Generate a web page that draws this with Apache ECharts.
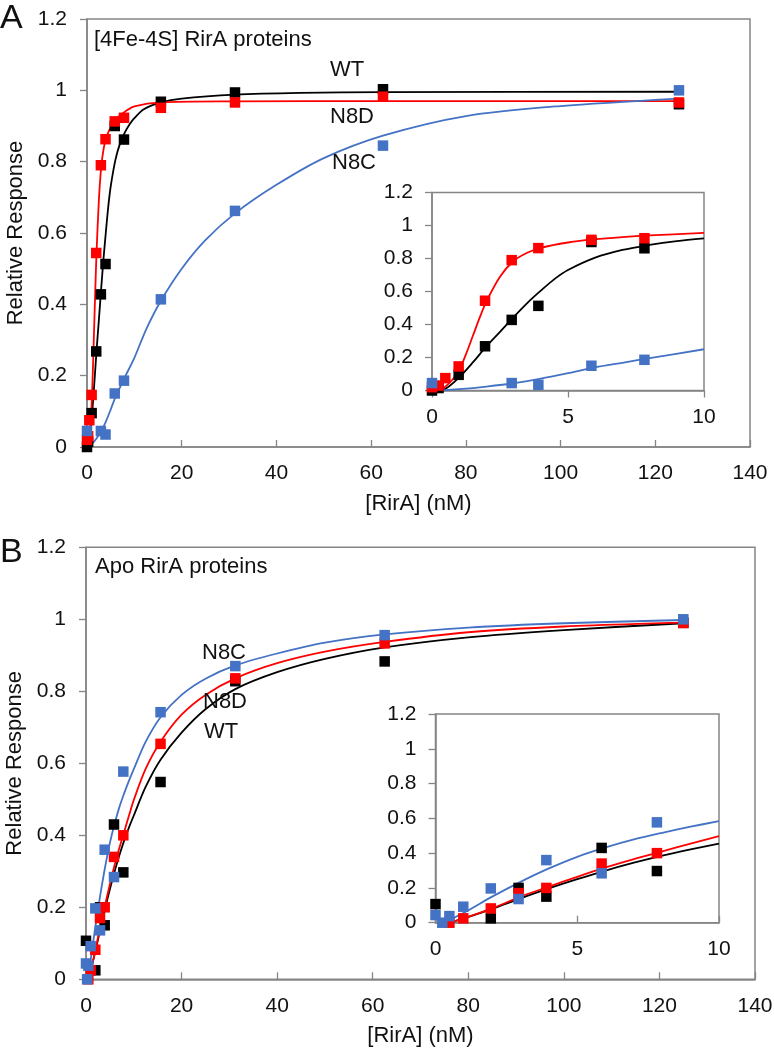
<!DOCTYPE html>
<html><head><meta charset="utf-8">
<script src="https://cdn.jsdelivr.net/npm/echarts@6/dist/echarts.min.js"></script>
<style>html,body{margin:0;padding:0;background:#fff}#c{width:774px;height:1049px}</style>
</head><body><div id="c"></div>
<script>
// ---------- Panel A : [4Fe-4S] RirA proteins ----------
const aWTPoints   = [[0,0.0],[0.24,0.015],[0.98,0.095],[1.95,0.268],[2.93,0.428],[3.91,0.513],[5.86,0.9],[7.81,0.862],[15.6,0.968],[31.25,0.994],[62.5,1.003],[125,0.961]];
const aN8DPoints  = [[0,0.02],[0.24,0.03],[0.49,0.075],[0.98,0.146],[1.95,0.544],[2.93,0.79],[3.91,0.863],[5.86,0.913],[7.81,0.923],[15.6,0.951],[31.25,0.966],[62.5,0.982],[125,0.966]];
const aN8CPoints  = [[0,0.045],[2.93,0.045],[3.91,0.035],[5.86,0.15],[7.81,0.186],[15.6,0.414],[31.25,0.662],[62.5,0.845],[125,1.0]];
const aWTCurve    = [[0.3,0],[0.5,0.01],[1,0.08],[1.5,0.17],[2,0.267],[2.5,0.355],[3,0.445],[3.5,0.53],[4,0.605],[4.5,0.675],[5,0.73],[6,0.805],[7,0.852],[8,0.882],[9,0.905],[10,0.922],[12,0.947],[15.6,0.966],[20,0.977],[31.25,0.988],[45,0.993],[62.5,0.995],[125,0.996]];
const aN8DCurve   = [[0.3,0],[0.5,0.025],[0.75,0.065],[1,0.125],[1.25,0.22],[1.5,0.33],[1.75,0.44],[2,0.54],[2.5,0.69],[3,0.785],[3.5,0.835],[4,0.865],[5,0.897],[6,0.917],[7,0.93],[8,0.94],[10,0.955],[15.6,0.966],[31.25,0.969],[62.5,0.97],[125,0.97]];
const aN8CCurve   = [[0.3,0],[1,0.008],[2,0.024],[3,0.044],[4,0.072],[5,0.105],[6,0.14],[7,0.168],[8,0.196],[10,0.25],[12.5,0.33],[15.6,0.41],[20,0.5],[25,0.58],[31.25,0.655],[40,0.735],[50,0.81],[62.5,0.873],[80,0.928],[100,0.956],[125,0.977]];

// ---------- Panel B : Apo RirA proteins ----------
const bWTPoints   = [[0,0.107],[1.95,0.025],[2.93,0.2],[3.91,0.15],[5.86,0.43],[7.81,0.297],[15.6,0.548],[31.25,0.828],[62.5,0.883],[125,0.99]];
const bN8DPoints  = [[0.49,0.0],[0.98,0.025],[1.95,0.082],[2.93,0.17],[3.91,0.2],[5.86,0.34],[7.81,0.4],[15.6,0.654],[31.25,0.836],[62.5,0.933],[125,0.99]];
const bN8CPoints  = [[0,0.044],[0.24,0.0],[0.49,0.038],[0.98,0.092],[1.95,0.197],[2.93,0.136],[3.91,0.36],[5.86,0.284],[7.81,0.577],[15.6,0.742],[31.25,0.87],[62.5,0.956],[125,1.0]];
const bWTCurve    = [[0.5,0],[1,0.025],[2,0.08],[3,0.14],[4,0.197],[5,0.25],[6,0.3],[7,0.345],[8,0.386],[9,0.422],[10,0.455],[12.5,0.535],[15.6,0.61],[20,0.685],[25,0.75],[31.25,0.806],[40,0.853],[50,0.89],[62.5,0.922],[80,0.95],[100,0.97],[125,0.989]];
const bN8DCurve   = [[0.5,0],[1,0.025],[2,0.082],[3,0.15],[4,0.207],[5,0.264],[6,0.318],[7,0.366],[8,0.41],[9,0.455],[10,0.498],[12.5,0.585],[15.6,0.66],[20,0.735],[25,0.79],[31.25,0.836],[40,0.878],[50,0.91],[62.5,0.937],[80,0.964],[100,0.98],[125,0.991]];
const bN8CCurve   = [[0.3,0],[1,0.057],[2,0.15],[3,0.235],[4,0.312],[5,0.379],[6,0.433],[7,0.479],[8,0.517],[9,0.552],[10,0.584],[12.5,0.66],[15.6,0.728],[20,0.79],[25,0.835],[31.25,0.872],[40,0.905],[50,0.935],[62.5,0.958],[80,0.977],[100,0.989],[125,0.998]];

// ---------- Axis ticks ----------
const mainXTicks = {min:0, max:140, interval:20};
const insetXTicks = {min:0, max:10, interval:5};
const yTicks = {min:0, max:1.2, interval:0.2};

const COL = {wt:'#000000', n8d:'#ff0000', n8c:'#4472c4'};
const FONT = "'Liberation Sans', Arial, Helvetica, sans-serif";
const AXC = '#858585';

function inset(arr){ return arr.filter(p => p[0] <= 10); }

function xAxisDef(grid, ticks, tickInside, withName){
  return Object.assign({
    type:'value', gridIndex:grid,
    axisLine:{show:true, onZero:false, lineStyle:{color:AXC, width:1.5}},
    axisTick:{show:true, inside:tickInside, length:7, lineStyle:{color:AXC, width:1.3}},
    axisLabel:{color:'#111', fontSize:21, fontFamily:FONT, margin:16, showMinLabel:true, showMaxLabel:true},
    splitLine:{show:false},
    name: withName ? '[RirA] (nM)' : '',
    nameLocation:'middle', nameGap:46,
    nameTextStyle:{color:'#111', fontSize:22, fontFamily:FONT}
  }, ticks);
}
function yAxisDef(grid, withName, margin){
  return Object.assign({
    type:'value', gridIndex:grid,
    axisLine:{show:true, onZero:false, lineStyle:{color:AXC, width:1.5}},
    axisTick:{show:true, inside:false, length:7, lineStyle:{color:AXC, width:1.3}},
    axisLabel:{color:'#111', fontSize:21, fontFamily:FONT, margin:margin, showMinLabel:true, showMaxLabel:true},
    splitLine:{show:false},
    name: withName ? 'Relative Response' : '',
    nameLocation:'middle', nameGap:54, nameRotate:90,
    nameTextStyle:{color:'#111', fontSize:22, fontFamily:FONT}
  }, yTicks);
}

function lineS(idx, data, color){
  return {type:'line', xAxisIndex:idx, yAxisIndex:idx, data:data, showSymbol:false, symbol:'none',
    smooth:0.3, lineStyle:{color:color, width:1.8}, z:2, silent:true, animation:false};
}
function scatS(idx, data, color, z){
  return {type:'scatter', xAxisIndex:idx, yAxisIndex:idx, data:data, symbol:'rect', symbolSize:10.5,
    itemStyle:{color:color, opacity:1}, z:z, silent:true, animation:false};
}
function panelSeries(idx, wtC, n8dC, n8cC, wtP, n8dP, n8cP){
  return [
    lineS(idx, wtC, COL.wt), lineS(idx, n8dC, COL.n8d), lineS(idx, n8cC, COL.n8c),
    scatS(idx, wtP, COL.wt, 3), scatS(idx, n8dP, COL.n8d, 4), scatS(idx, n8cP, COL.n8c, 5)
  ];
}

function txt(x, y, s, size, align){
  return {type:'text', x:x, y:y, z:100, style:{text:s, fontSize:size||22, fontFamily:FONT, fill:'#111',
    align:align||'left', verticalAlign:'middle', textAlign:align||'left', textVerticalAlign:'middle'}};
}

const gridBase = {show:true, borderColor:AXC, borderWidth:1.5, containLabel:false, outerBoundsMode:'none'};

const option = {
  backgroundColor:'#fff',
  animation:false,
  grid:[
    Object.assign({left:87, top:19, width:663, height:428}, gridBase),
    Object.assign({left:432, top:192.5, width:272, height:198, backgroundColor:'#fff'}, gridBase),
    Object.assign({left:86, top:547.3, width:669, height:432}, gridBase),
    Object.assign({left:435.5, top:714, width:283.5, height:208.7, backgroundColor:'#fff'}, gridBase)
  ],
  xAxis:[
    xAxisDef(0, mainXTicks, true, true),
    xAxisDef(1, insetXTicks, false, false),
    xAxisDef(2, mainXTicks, true, true),
    xAxisDef(3, insetXTicks, true, false)
  ],
  yAxis:[
    yAxisDef(0, true, 20),
    yAxisDef(1, false, 19),
    yAxisDef(2, true, 20),
    yAxisDef(3, false, 19)
  ],
  series:[].concat(
    panelSeries(0, aWTCurve, aN8DCurve, aN8CCurve, aWTPoints, aN8DPoints, aN8CPoints),
    panelSeries(1, inset(aWTCurve), inset(aN8DCurve), inset(aN8CCurve), inset(aWTPoints), inset(aN8DPoints), inset(aN8CPoints)),
    panelSeries(2, bWTCurve, bN8DCurve, bN8CCurve, bWTPoints, bN8DPoints, bN8CPoints),
    panelSeries(3, inset(bWTCurve), inset(bN8DCurve), inset(bN8CCurve), inset(bWTPoints), inset(bN8DPoints), inset(bN8CPoints))
  ),
  graphic:[
    txt(0, 19, 'A', 34),
    txt(0, 553, 'B', 34),
    txt(94, 40, '[4Fe-4S] RirA proteins'),
    txt(330, 70, 'WT'),
    txt(330, 117, 'N8D'),
    txt(332, 163, 'N8C'),
    txt(95, 567, 'Apo RirA proteins'),
    txt(202, 653, 'N8C'),
    txt(203, 702, 'N8D'),
    txt(204, 732, 'WT')
  ]
};

const chart = echarts.init(document.getElementById('c'), null, {renderer:'canvas'});
chart.setOption(option);
</script>
</body></html>
